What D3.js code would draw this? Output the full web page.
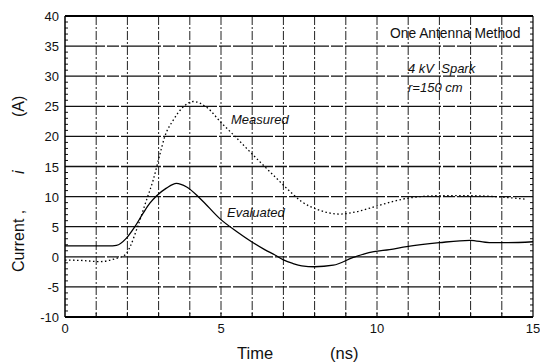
<!DOCTYPE html>
<html><head><meta charset="utf-8">
<script src="https://cdn.jsdelivr.net/npm/d3@7"></script>
<style>body{margin:0;background:#fff}svg{display:block}text{font-family:"Liberation Sans",Arial,sans-serif;fill:#111}</style>
</head><body>
<svg id="c" width="540" height="363"></svg>
<script>
const xTicks = [0, 5, 10, 15];
const yTicks = [-10, -5, 0, 5, 10, 15, 20, 25, 30, 35, 40];
const evaluated = [[0,1.8],[0.8,1.8],[1.4,1.8],[1.65,1.9],[1.97,3.1],[2.24,5.0],[2.5,7.2],[2.72,8.9],[2.93,10.1],[3.25,11.4],[3.57,12.2],[3.9,11.6],[4.33,9.7],[4.97,6.3],[5.5,4.2],[5.98,2.5],[6.4,1.2],[6.73,0.3],[7.0,-0.5],[7.3,-1.1],[7.59,-1.5],[8.0,-1.65],[8.6,-1.4],[9.24,-0.1],[9.6,0.5],[9.9,0.85],[10.4,1.2],[10.95,1.7],[12.0,2.35],[12.98,2.74],[13.6,2.35],[14.2,2.35],[15,2.5]];
const measured = [[0,-0.55],[0.5,-0.6],[1.12,-0.8],[1.65,-0.25],[1.92,0.3],[2.08,1.6],[2.29,4.45],[2.61,9.4],[2.83,12.8],[3.04,17.0],[3.2,20],[3.47,22.7],[3.79,24.9],[4.11,25.8],[4.55,24.8],[5.02,22.2],[5.45,20],[5.88,17.7],[6.3,15.5],[6.73,13.3],[7.16,11.1],[7.59,9.15],[8.12,7.8],[8.81,7.1],[9.35,7.5],[10.1,8.6],[10.95,9.7],[12.0,10.15],[12.98,10.15],[14.05,9.9],[14.8,9.55]];

const svg = d3.select("#c");
const L = 65, R = 533, T = 16, B = 317;
const x = d3.scaleLinear().domain([0, 15]).range([L, R]);
const y = d3.scaleLinear().domain([-10, 40]).range([B, T]);

// grid
const g = svg.append("g");
g.selectAll(".vg").data(d3.range(1, 15)).join("line")
  .attr("x1", d => x(d)).attr("x2", d => x(d)).attr("y1", T).attr("y2", B)
  .attr("stroke", "#222").attr("stroke-width", 1).attr("stroke-dasharray", "9,2,2,2");
g.selectAll(".hg").data(yTicks.slice(1, -1)).join("line")
  .attr("x1", L).attr("x2", R).attr("y1", d => y(d)).attr("y2", d => y(d))
  .attr("stroke", "#111").attr("stroke-width", 1.3).attr("stroke-dasharray", "40,2,12,2");

// minor ticks
const minor = d3.range(-10, 41).filter(d => d % 5 !== 0);
g.selectAll(".mt").data(minor).join("line")
  .attr("x1", L).attr("x2", L + 3).attr("y1", d => y(d)).attr("y2", d => y(d))
  .attr("stroke", "#111").attr("stroke-width", 1);
g.selectAll(".mtr").data(minor).join("line")
  .attr("x1", R - 3).attr("x2", R).attr("y1", d => y(d)).attr("y2", d => y(d))
  .attr("stroke", "#111").attr("stroke-width", 1);
g.selectAll(".bt").data(d3.range(1, 15)).join("line")
  .attr("x1", d => x(d)).attr("x2", d => x(d)).attr("y1", B).attr("y2", B - 4)
  .attr("stroke", "#111").attr("stroke-width", 1.2);

// frame
g.append("line").attr("x1", L).attr("x2", R).attr("y1", T).attr("y2", T).attr("stroke", "#000").attr("stroke-width", 2);
g.append("line").attr("x1", L).attr("x2", R).attr("y1", B).attr("y2", B).attr("stroke", "#000").attr("stroke-width", 2);
g.append("line").attr("x1", L).attr("x2", L).attr("y1", T).attr("y2", B).attr("stroke", "#000").attr("stroke-width", 1.5);
g.append("line").attr("x1", R).attr("x2", R).attr("y1", T).attr("y2", B).attr("stroke", "#000").attr("stroke-width", 1.2);

// tick labels
svg.selectAll(".yl").data(yTicks).join("text")
  .attr("x", L - 6).attr("y", d => y(d) + 5).attr("text-anchor", "end")
  .attr("font-size", 13).text(d => d);
svg.selectAll(".xl").data(xTicks).join("text")
  .attr("x", d => x(d)).attr("y", B + 16).attr("text-anchor", "middle")
  .attr("font-size", 13).text(d => d);

// lines
const line = d3.line().x(d => x(d[0])).y(d => y(d[1])).curve(d3.curveMonotoneX);
svg.append("path").attr("d", line(evaluated)).attr("fill", "none").attr("stroke", "#000").attr("stroke-width", 1.3);
svg.append("path").attr("d", line(measured)).attr("fill", "none").attr("stroke", "#000").attr("stroke-width", 1.3).attr("stroke-dasharray", "1.5,2.5");

// annotations
svg.append("text").attr("x", 231).attr("y", 124).attr("font-size", 13).attr("font-style", "italic").text("Measured");
svg.append("text").attr("x", 227).attr("y", 217).attr("font-size", 13).attr("font-style", "italic").text("Evaluated");
svg.append("text").attr("x", 390).attr("y", 38).attr("font-size", 13.8).text("One Antenna Method");
svg.append("text").attr("x", 408).attr("y", 73).attr("font-size", 13).attr("font-style", "italic").attr("xml:space", "preserve").text("4 kV  Spark");
svg.append("text").attr("x", 408).attr("y", 92).attr("font-size", 13).attr("font-style", "italic").text("r=150 cm");

// axis titles
svg.append("text").attr("transform", "translate(24,272) rotate(-90)").attr("font-size", 16).text("Current ,");
svg.append("text").attr("transform", "translate(24,174) rotate(-90)").attr("font-size", 16).attr("font-style", "italic").text("i");
svg.append("text").attr("transform", "translate(24,117) rotate(-90)").attr("font-size", 16).text("(A)");
svg.append("text").attr("x", 237).attr("y", 359).attr("font-size", 16.5).text("Time");
svg.append("text").attr("x", 330).attr("y", 359).attr("font-size", 16.5).text("(ns)");
</script>
</body></html>
